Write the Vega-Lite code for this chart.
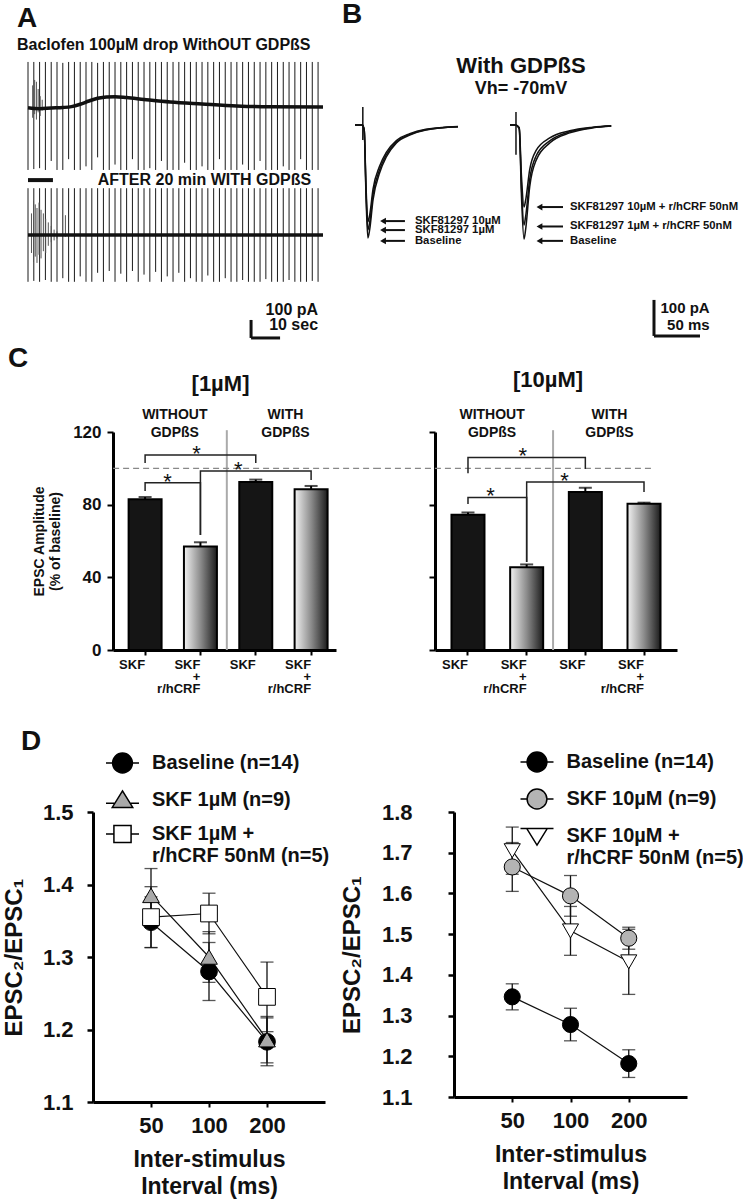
{
"$schema": "https://vega.github.io/schema/vega-lite/v6.json",
"background": "white",
"padding": {"left": 2, "top": 1, "right": 0, "bottom": 2},
"config": {
  "font": "Liberation Sans",
  "view": {"stroke": null},
  "axis": {"labelFont": "Liberation Sans", "titleFont": "Liberation Sans", "labelFontWeight": "bold", "titleFontWeight": "bold", "labelColor": "#111", "titleColor": "#111", "domainColor": "#000", "tickColor": "#000", "grid": false},
  "title": {"font": "Liberation Sans", "fontWeight": "bold", "color": "#111", "subtitleFont": "Liberation Sans", "subtitleFontWeight": "bold", "subtitleColor": "#111"},
  "text": {"font": "Liberation Sans", "fontWeight": "bold", "color": "#111"},
  "legend": {"labelFont": "Liberation Sans"}
},
"datasets": {
  "a1Spikes": [{"t":0,"lo":-350,"hi":250},{"t":2,"lo":-345,"hi":250},{"t":4,"lo":-340,"hi":250},{"t":6,"lo":-350,"hi":250},{"t":8,"lo":-300,"hi":250},{"t":10,"lo":-350,"hi":250},{"t":12,"lo":-350,"hi":245},{"t":14,"lo":-290,"hi":250},{"t":16,"lo":-350,"hi":250},{"t":18,"lo":-350,"hi":250},{"t":20,"lo":-330,"hi":250},{"t":22,"lo":-350,"hi":250},{"t":24,"lo":-280,"hi":245},{"t":26,"lo":-350,"hi":250},{"t":28,"lo":-350,"hi":250},{"t":30,"lo":-320,"hi":250},{"t":32,"lo":-350,"hi":250},{"t":34,"lo":-350,"hi":250},{"t":36,"lo":-290,"hi":250},{"t":38,"lo":-350,"hi":250},{"t":40,"lo":-350,"hi":250},{"t":42,"lo":-340,"hi":250},{"t":44,"lo":-350,"hi":250},{"t":46,"lo":-300,"hi":250},{"t":48,"lo":-350,"hi":250},{"t":50,"lo":-350,"hi":250},{"t":52,"lo":-350,"hi":250},{"t":54,"lo":-310,"hi":250},{"t":56,"lo":-350,"hi":250},{"t":58,"lo":-350,"hi":250},{"t":60,"lo":-330,"hi":250},{"t":62,"lo":-350,"hi":250},{"t":64,"lo":-350,"hi":250},{"t":66,"lo":-290,"hi":250},{"t":68,"lo":-350,"hi":250},{"t":70,"lo":-350,"hi":250},{"t":72,"lo":-350,"hi":250},{"t":74,"lo":-320,"hi":250},{"t":76,"lo":-350,"hi":250},{"t":78,"lo":-350,"hi":250},{"t":80,"lo":-300,"hi":250},{"t":82,"lo":-350,"hi":250},{"t":84,"lo":-350,"hi":250},{"t":86,"lo":-350,"hi":250},{"t":88,"lo":-330,"hi":250},{"t":90,"lo":-350,"hi":250},{"t":92,"lo":-350,"hi":250},{"t":94,"lo":-290,"hi":250},{"t":96,"lo":-350,"hi":250},{"t":98,"lo":-350,"hi":250},{"t":100,"lo":-350,"hi":250}],
  "a1Burst": [{"t":1.6,"lo":-60,"hi":120},{"t":2.3,"lo":-40,"hi":150},{"t":2.9,"lo":-70,"hi":140},{"t":3.5,"lo":-30,"hi":100},{"t":4.2,"lo":-50,"hi":60},{"t":4.9,"lo":-20,"hi":40}],
  "a1Base": [{"t":0,"pA":-5},{"t":4,"pA":-10},{"t":8,"pA":-6},{"t":12,"pA":-3},{"t":15,"pA":2},{"t":18,"pA":15},{"t":21,"pA":33},{"t":24,"pA":48},{"t":27,"pA":56},{"t":30,"pA":57},{"t":34,"pA":52},{"t":40,"pA":42},{"t":49,"pA":28},{"t":60,"pA":17},{"t":72,"pA":6},{"t":83,"pA":1},{"t":101.7,"pA":0}],
  "a2Spikes": [{"t":0,"lo":-260,"hi":260},{"t":2,"lo":-255,"hi":260},{"t":4,"lo":-260,"hi":260},{"t":6,"lo":-250,"hi":260},{"t":8,"lo":-260,"hi":260},{"t":10,"lo":-260,"hi":260},{"t":12,"lo":-240,"hi":260},{"t":14,"lo":-260,"hi":260},{"t":16,"lo":-260,"hi":260},{"t":18,"lo":-230,"hi":260},{"t":20,"lo":-260,"hi":260},{"t":22,"lo":-260,"hi":260},{"t":24,"lo":-210,"hi":260},{"t":26,"lo":-260,"hi":260},{"t":28,"lo":-200,"hi":260},{"t":30,"lo":-260,"hi":260},{"t":32,"lo":-215,"hi":260},{"t":34,"lo":-260,"hi":260},{"t":36,"lo":-200,"hi":260},{"t":38,"lo":-260,"hi":260},{"t":40,"lo":-220,"hi":260},{"t":42,"lo":-260,"hi":260},{"t":44,"lo":-205,"hi":260},{"t":46,"lo":-260,"hi":260},{"t":48,"lo":-230,"hi":260},{"t":50,"lo":-260,"hi":260},{"t":52,"lo":-210,"hi":260},{"t":54,"lo":-260,"hi":260},{"t":56,"lo":-240,"hi":260},{"t":58,"lo":-260,"hi":260},{"t":60,"lo":-260,"hi":260},{"t":62,"lo":-225,"hi":260},{"t":64,"lo":-260,"hi":260},{"t":66,"lo":-260,"hi":260},{"t":68,"lo":-240,"hi":260},{"t":70,"lo":-260,"hi":260},{"t":72,"lo":-260,"hi":260},{"t":74,"lo":-250,"hi":260},{"t":76,"lo":-260,"hi":260},{"t":78,"lo":-260,"hi":260},{"t":80,"lo":-260,"hi":260},{"t":82,"lo":-245,"hi":260},{"t":84,"lo":-260,"hi":260},{"t":86,"lo":-260,"hi":260},{"t":88,"lo":-260,"hi":260},{"t":90,"lo":-250,"hi":260},{"t":92,"lo":-260,"hi":260},{"t":94,"lo":-260,"hi":260},{"t":96,"lo":-260,"hi":260},{"t":98,"lo":-255,"hi":260},{"t":100,"lo":-260,"hi":260}],
  "a2Burst": [{"t":1.2,"lo":-100,"hi":120},{"t":1.9,"lo":-150,"hi":190},{"t":2.5,"lo":-120,"hi":170},{"t":3.1,"lo":-155,"hi":150},{"t":3.8,"lo":-110,"hi":180},{"t":4.5,"lo":-130,"hi":140},{"t":5.3,"lo":-90,"hi":120},{"t":6.1,"lo":-100,"hi":90},{"t":7,"lo":-60,"hi":70},{"t":8,"lo":-40,"hi":50},{"t":9,"lo":-30,"hi":30},{"t":10,"lo":-20,"hi":20},{"t":12.9,"lo":-10,"hi":110}],
  "a2Base": [{"t":0,"pA":0},{"t":101.7,"pA":0}],
  "a2Drug": [{"t":0,"t2":8.6,"pA":305}],
  "a2Scale": [{"t":76.9,"t2":76.9,"pA":-472,"pA2":-572},{"t":76.9,"t2":86.9,"pA":-572,"pA2":-572}],
  "a2Text": [{"t":97.6,"pA":305,"label":"AFTER 20 min WITH GDPßS"},{"t":100,"pA":-417,"label":"100 pA"},{"t":100,"pA":-500,"label":"10 sec"}],
  "b1Traces": [
    {"cond":"Baseline","t":0,"pA":0},{"cond":"Baseline","t":8,"pA":0},{"cond":"Baseline","t":10,"pA":-15},{"cond":"Baseline","t":12,"pA":-200},{"cond":"Baseline","t":14,"pA":-314},{"cond":"Baseline","t":16,"pA":-290},{"cond":"Baseline","t":19.6,"pA":-208},{"cond":"Baseline","t":26.8,"pA":-133},{"cond":"Baseline","t":34,"pA":-89},{"cond":"Baseline","t":45,"pA":-50},{"cond":"Baseline","t":59.5,"pA":-28},{"cond":"Baseline","t":77,"pA":-14},{"cond":"Baseline","t":112,"pA":-5},
    {"cond":"SKF81297 10µM","t":0,"pA":0},{"cond":"SKF81297 10µM","t":8,"pA":0},{"cond":"SKF81297 10µM","t":10,"pA":-13},{"cond":"SKF81297 10µM","t":12,"pA":-171},{"cond":"SKF81297 10µM","t":14,"pA":-269},{"cond":"SKF81297 10µM","t":16,"pA":-249},{"cond":"SKF81297 10µM","t":19.6,"pA":-178},{"cond":"SKF81297 10µM","t":26.8,"pA":-114},{"cond":"SKF81297 10µM","t":34,"pA":-76},{"cond":"SKF81297 10µM","t":45,"pA":-43},{"cond":"SKF81297 10µM","t":59.5,"pA":-24},{"cond":"SKF81297 10µM","t":77,"pA":-12},{"cond":"SKF81297 10µM","t":112,"pA":-4},
    {"cond":"SKF81297 1µM","t":0,"pA":0},{"cond":"SKF81297 1µM","t":8,"pA":0},{"cond":"SKF81297 1µM","t":10,"pA":-14},{"cond":"SKF81297 1µM","t":12,"pA":-186},{"cond":"SKF81297 1µM","t":14,"pA":-292},{"cond":"SKF81297 1µM","t":16,"pA":-270},{"cond":"SKF81297 1µM","t":19.6,"pA":-193},{"cond":"SKF81297 1µM","t":26.8,"pA":-124},{"cond":"SKF81297 1µM","t":34,"pA":-83},{"cond":"SKF81297 1µM","t":45,"pA":-47},{"cond":"SKF81297 1µM","t":59.5,"pA":-26},{"cond":"SKF81297 1µM","t":77,"pA":-13},{"cond":"SKF81297 1µM","t":112,"pA":-5}
  ],
  "b1Art": [{"t":8.5,"lo":-42,"hi":50}],
  "b1Arrows": [{"label":"SKF81297 10µM","pA":-267},{"label":"SKF81297 1µM","pA":-292},{"label":"Baseline","pA":-322}],
  "b2Traces": [
    {"cond":"Baseline","t":0,"pA":0},{"cond":"Baseline","t":6,"pA":0},{"cond":"Baseline","t":10,"pA":-10},{"cond":"Baseline","t":12.5,"pA":-200},{"cond":"Baseline","t":15.2,"pA":-317},{"cond":"Baseline","t":17,"pA":-290},{"cond":"Baseline","t":21.4,"pA":-172},{"cond":"Baseline","t":28.6,"pA":-97},{"cond":"Baseline","t":43.2,"pA":-50},{"cond":"Baseline","t":64.9,"pA":-22},{"cond":"Baseline","t":90.2,"pA":-8},{"cond":"Baseline","t":110,"pA":-3},
    {"cond":"SKF81297 10µM + r/hCRF 50nM","t":0,"pA":0},{"cond":"SKF81297 10µM + r/hCRF 50nM","t":6,"pA":0},{"cond":"SKF81297 10µM + r/hCRF 50nM","t":10,"pA":-7},{"cond":"SKF81297 10µM + r/hCRF 50nM","t":12.5,"pA":-144},{"cond":"SKF81297 10µM + r/hCRF 50nM","t":15.2,"pA":-228},{"cond":"SKF81297 10µM + r/hCRF 50nM","t":17,"pA":-209},{"cond":"SKF81297 10µM + r/hCRF 50nM","t":21.4,"pA":-124},{"cond":"SKF81297 10µM + r/hCRF 50nM","t":28.6,"pA":-70},{"cond":"SKF81297 10µM + r/hCRF 50nM","t":43.2,"pA":-36},{"cond":"SKF81297 10µM + r/hCRF 50nM","t":64.9,"pA":-16},{"cond":"SKF81297 10µM + r/hCRF 50nM","t":90.2,"pA":-6},{"cond":"SKF81297 10µM + r/hCRF 50nM","t":110,"pA":-2},
    {"cond":"SKF81297 1µM + r/hCRF 50nM","t":0,"pA":0},{"cond":"SKF81297 1µM + r/hCRF 50nM","t":6,"pA":0},{"cond":"SKF81297 1µM + r/hCRF 50nM","t":10,"pA":-9},{"cond":"SKF81297 1µM + r/hCRF 50nM","t":12.5,"pA":-175},{"cond":"SKF81297 1µM + r/hCRF 50nM","t":15.2,"pA":-278},{"cond":"SKF81297 1µM + r/hCRF 50nM","t":17,"pA":-254},{"cond":"SKF81297 1µM + r/hCRF 50nM","t":21.4,"pA":-151},{"cond":"SKF81297 1µM + r/hCRF 50nM","t":28.6,"pA":-85},{"cond":"SKF81297 1µM + r/hCRF 50nM","t":43.2,"pA":-44},{"cond":"SKF81297 1µM + r/hCRF 50nM","t":64.9,"pA":-19},{"cond":"SKF81297 1µM + r/hCRF 50nM","t":90.2,"pA":-7},{"cond":"SKF81297 1µM + r/hCRF 50nM","t":110,"pA":-3}
  ],
  "b2Art": [{"t":6.5,"lo":-83,"hi":36}],
  "b2Arrows": [{"label":"SKF81297 10µM + r/hCRF 50nM","pA":-228},{"label":"SKF81297 1µM + r/hCRF 50nM","pA":-282},{"label":"Baseline","pA":-322}],
  "b2Scale": [{"t":156.5,"t2":156.5,"pA":-486,"pA2":-586},{"t":156.5,"t2":206.5,"pA":-586,"pA2":-586}],
  "b2Text": [{"t":217,"pA":-508,"label":"100 pA"},{"t":217,"pA":-556,"label":"50 ms"}],
  "c1Bars": [{"cat":"SKF (w/o GDPßS)","kind":"SKF","v":83,"hi":84.2},{"cat":"SKF + r/hCRF (w/o GDPßS)","kind":"SKF + r/hCRF","v":57,"hi":59.3},{"cat":"SKF (GDPßS)","kind":"SKF","v":92.5,"hi":93.8},{"cat":"SKF + r/hCRF (GDPßS)","kind":"SKF + r/hCRF","v":88.5,"hi":90.3}],
  "c2Bars": [{"cat":"SKF (w/o GDPßS)","kind":"SKF","v":74.5,"hi":75.7},{"cat":"SKF + r/hCRF (w/o GDPßS)","kind":"SKF + r/hCRF","v":45.5,"hi":47.1},{"cat":"SKF (GDPßS)","kind":"SKF","v":87,"hi":89.3},{"cat":"SKF + r/hCRF (GDPßS)","kind":"SKF + r/hCRF","v":80.5,"hi":81.1}],
  "c1Br": [{"id":"a","cat":"SKF (w/o GDPßS)","y":103,"o":1},{"id":"a","cat":"SKF (w/o GDPßS)","y":107.3,"o":2},{"id":"a","cat":"SKF (GDPßS)","y":107.3,"o":3},{"id":"a","cat":"SKF (GDPßS)","y":103,"o":4},{"id":"b","cat":"SKF (w/o GDPßS)","y":87.5,"o":1},{"id":"b","cat":"SKF (w/o GDPßS)","y":92,"o":2},{"id":"b","cat":"SKF + r/hCRF (w/o GDPßS)","y":92,"o":3},{"id":"b","cat":"SKF + r/hCRF (w/o GDPßS)","y":63.3,"o":4},{"id":"c","cat":"SKF + r/hCRF (w/o GDPßS)","y":63.3,"o":1},{"id":"c","cat":"SKF + r/hCRF (w/o GDPßS)","y":98.5,"o":2},{"id":"c","cat":"SKF + r/hCRF (GDPßS)","y":98.5,"o":3},{"id":"c","cat":"SKF + r/hCRF (GDPßS)","y":93.6,"o":4}],
  "c2Br": [{"id":"a","cat":"SKF (w/o GDPßS)","y":97.3,"o":1},{"id":"a","cat":"SKF (w/o GDPßS)","y":106,"o":2},{"id":"a","cat":"SKF (GDPßS)","y":106,"o":3},{"id":"a","cat":"SKF (GDPßS)","y":99.6,"o":4},{"id":"b","cat":"SKF (w/o GDPßS)","y":80.3,"o":1},{"id":"b","cat":"SKF (w/o GDPßS)","y":84,"o":2},{"id":"b","cat":"SKF + r/hCRF (w/o GDPßS)","y":84,"o":3},{"id":"b","cat":"SKF + r/hCRF (w/o GDPßS)","y":48.4,"o":4},{"id":"c","cat":"SKF + r/hCRF (w/o GDPßS)","y":48.4,"o":1},{"id":"c","cat":"SKF + r/hCRF (w/o GDPßS)","y":92.5,"o":2},{"id":"c","cat":"SKF + r/hCRF (GDPßS)","y":92.5,"o":3},{"id":"c","cat":"SKF + r/hCRF (GDPßS)","y":87,"o":4}],
  "c1Stars": [{"pair":"1-3","cat":"SKF + r/hCRF (w/o GDPßS)","y":107.3},{"pair":"1-2","cat":"SKF (w/o GDPßS)","y":92},{"pair":"2-4","cat":"SKF + r/hCRF (w/o GDPßS)","y":98.5}],
  "c2Stars": [{"pair":"1-3","cat":"SKF + r/hCRF (w/o GDPßS)","y":106},{"pair":"1-2","cat":"SKF (w/o GDPßS)","y":84},{"pair":"2-4","cat":"SKF + r/hCRF (w/o GDPßS)","y":92.5}],
  "groups": [{"cat":"SKF (w/o GDPßS)","label":"WITHOUT\nGDPßS"},{"cat":"SKF (GDPßS)","label":"WITH\nGDPßS"}],
  "d1": [
    {"series":"Baseline (n=14)","isi":50,"m":1.348,"e":0.035},{"series":"Baseline (n=14)","isi":100,"m":1.28,"e":0.04},{"series":"Baseline (n=14)","isi":200,"m":1.183,"e":0.033},
    {"series":"SKF 1µM (n=9)","isi":50,"m":1.385,"e":0.037},{"series":"SKF 1µM (n=9)","isi":100,"m":1.3,"e":0.035},{"series":"SKF 1µM (n=9)","isi":200,"m":1.186,"e":0.032},
    {"series":"SKF 1µM + r/hCRF 50nM (n=5)","isi":50,"m":1.355,"e":0.042},{"series":"SKF 1µM + r/hCRF 50nM (n=5)","isi":100,"m":1.36,"e":0.028},{"series":"SKF 1µM + r/hCRF 50nM (n=5)","isi":200,"m":1.245,"e":0.048}
  ],
  "d2": [
    {"series":"Baseline (n=14)","isi":50,"m":1.346,"e":0.032},{"series":"Baseline (n=14)","isi":100,"m":1.278,"e":0.04},{"series":"Baseline (n=14)","isi":200,"m":1.182,"e":0.034},
    {"series":"SKF 10µM (n=9)","isi":50,"m":1.665,"e":0.06},{"series":"SKF 10µM (n=9)","isi":100,"m":1.594,"e":0.05},{"series":"SKF 10µM (n=9)","isi":200,"m":1.49,"e":0.027},
    {"series":"SKF 10µM + r/hCRF 50nM (n=5)","isi":50,"m":1.705,"e":0.058},{"series":"SKF 10µM + r/hCRF 50nM (n=5)","isi":100,"m":1.508,"e":0.06},{"series":"SKF 10µM + r/hCRF 50nM (n=5)","isi":200,"m":1.432,"e":0.08}
  ]
},
"spacing": 0,
"vconcat": [
 {
  "spacing": 0, "bounds": "flush",
  "hconcat": [
   {
    "width": 295, "height": 287,
    "title": {"text": "A", "subtitle": "Baclofen 100µM drop WithOUT GDPßS", "anchor": "start", "frame": "group", "dx": -11, "offset": 5, "fontSize": 28, "subtitleFontSize": 16, "subtitlePadding": 4},
    "resolve": {"scale": {"y": "independent"}},
    "layer": [
     {"layer": [
       {"data": {"name": "a1Spikes"}, "mark": {"type": "rule", "color": "#1a1a1a", "strokeWidth": 1},
        "encoding": {"x": {"field": "t", "type": "quantitative", "scale": {"domain": [0, 101.7], "nice": false, "zero": false}, "axis": null},
                     "y": {"field": "lo", "type": "quantitative", "scale": {"domain": [-1322.4, 272], "nice": false, "zero": false}, "axis": null},
                     "y2": {"field": "hi"}}},
       {"data": {"name": "a1Burst"}, "mark": {"type": "rule", "color": "#555", "strokeWidth": 1},
        "encoding": {"x": {"field": "t", "type": "quantitative", "axis": null}, "y": {"field": "lo", "type": "quantitative", "axis": null}, "y2": {"field": "hi"}}},
       {"data": {"name": "a1Base"}, "mark": {"type": "line", "color": "#111", "strokeWidth": 3.5, "interpolate": "monotone"},
        "encoding": {"x": {"field": "t", "type": "quantitative", "axis": null}, "y": {"field": "pA", "type": "quantitative", "axis": null}}}
     ]},
     {"layer": [
       {"data": {"name": "a2Spikes"}, "mark": {"type": "rule", "color": "#1a1a1a", "strokeWidth": 1},
        "encoding": {"x": {"field": "t", "type": "quantitative", "axis": null},
                     "y": {"field": "lo", "type": "quantitative", "scale": {"domain": [-611.1, 983.3], "nice": false, "zero": false}, "axis": null},
                     "y2": {"field": "hi"}}},
       {"data": {"name": "a2Burst"}, "mark": {"type": "rule", "color": "#555", "strokeWidth": 1},
        "encoding": {"x": {"field": "t", "type": "quantitative", "axis": null}, "y": {"field": "lo", "type": "quantitative", "axis": null}, "y2": {"field": "hi"}}},
       {"data": {"name": "a2Base"}, "mark": {"type": "line", "color": "#111", "strokeWidth": 3.5},
        "encoding": {"x": {"field": "t", "type": "quantitative", "axis": null}, "y": {"field": "pA", "type": "quantitative", "axis": null}}},
       {"data": {"name": "a2Drug"}, "mark": {"type": "rule", "color": "#111", "strokeWidth": 4},
        "encoding": {"x": {"field": "t", "type": "quantitative", "axis": null}, "x2": {"field": "t2"}, "y": {"field": "pA", "type": "quantitative", "axis": null}}},
       {"data": {"name": "a2Scale"}, "mark": {"type": "rule", "color": "#111", "strokeWidth": 3},
        "encoding": {"x": {"field": "t", "type": "quantitative", "axis": null}, "x2": {"field": "t2"}, "y": {"field": "pA", "type": "quantitative", "axis": null}, "y2": {"field": "pA2"}}},
       {"data": {"name": "a2Text"}, "mark": {"type": "text", "align": "right", "baseline": "middle", "fontSize": 16},
        "encoding": {"x": {"field": "t", "type": "quantitative", "axis": null}, "y": {"field": "pA", "type": "quantitative", "axis": null}, "text": {"field": "label"}}}
     ]}
    ]
   },
   {"width": 32, "height": 287, "data": {"values": [{"k": 1}]}, "mark": {"type": "point", "opacity": 0}, "encoding": {}},
   {
    "width": 103, "height": 287,
    "title": {"text": "B", "fontSize": 28, "anchor": "start", "frame": "group", "dx": -13, "offset": 29},
    "layer": [
     {"data": {"name": "b1Traces"}, "mark": {"type": "line", "color": "#111", "strokeWidth": 1.5, "interpolate": "monotone"},
      "encoding": {"x": {"field": "t", "type": "quantitative", "scale": {"domain": [0, 112], "nice": false, "zero": false}, "axis": null},
                   "y": {"field": "pA", "type": "quantitative", "scale": {"domain": [-611.2, 186], "nice": false, "zero": false}, "axis": null},
                   "detail": {"field": "cond", "type": "nominal"}}},
     {"data": {"name": "b1Art"}, "mark": {"type": "rule", "color": "#111", "strokeWidth": 1.5},
      "encoding": {"x": {"field": "t", "type": "quantitative", "axis": null}, "y": {"field": "lo", "type": "quantitative", "axis": null}, "y2": {"field": "hi"}}},
     {"data": {"name": "b1Arrows"}, "mark": {"type": "rule", "color": "#111", "strokeWidth": 2},
      "encoding": {"x": {"datum": 30, "type": "quantitative", "axis": null}, "x2": {"datum": 54.3}, "y": {"field": "pA", "type": "quantitative", "axis": null}}},
     {"data": {"name": "b1Arrows"}, "mark": {"type": "point", "shape": "triangle-left", "filled": true, "color": "#111", "size": 45, "opacity": 1},
      "encoding": {"x": {"datum": 30.5, "type": "quantitative", "axis": null}, "y": {"field": "pA", "type": "quantitative", "axis": null}}},
     {"data": {"name": "b1Arrows"}, "mark": {"type": "text", "align": "left", "baseline": "middle", "fontSize": 11.3},
      "encoding": {"x": {"datum": 65.2, "type": "quantitative", "axis": null}, "y": {"field": "pA", "type": "quantitative", "axis": null}, "text": {"field": "label"}}}
    ]
   },
   {"width": 52, "height": 287, "data": {"values": [{"k": 1}]}, "mark": {"type": "point", "opacity": 0}, "encoding": {}},
   {
    "width": 198, "height": 287,
    "title": {"text": "With GDPßS", "subtitle": "Vh= -70mV", "fontSize": 22, "subtitleFontSize": 18, "subtitlePadding": 2, "anchor": "start", "align": "center", "frame": "group", "dx": 11, "offset": -41},
    "layer": [
     {"data": {"name": "b2Traces"}, "mark": {"type": "line", "color": "#111", "strokeWidth": 1.5, "interpolate": "monotone"},
      "encoding": {"x": {"field": "t", "type": "quantitative", "scale": {"domain": [0, 215.2], "nice": false, "zero": false}, "axis": null},
                   "y": {"field": "pA", "type": "quantitative", "scale": {"domain": [-611.2, 186], "nice": false, "zero": false}, "axis": null},
                   "detail": {"field": "cond", "type": "nominal"}}},
     {"data": {"name": "b2Art"}, "mark": {"type": "rule", "color": "#111", "strokeWidth": 1.5},
      "encoding": {"x": {"field": "t", "type": "quantitative", "axis": null}, "y": {"field": "lo", "type": "quantitative", "axis": null}, "y2": {"field": "hi"}}},
     {"data": {"name": "b2Arrows"}, "mark": {"type": "rule", "color": "#111", "strokeWidth": 2},
      "encoding": {"x": {"datum": 31.5, "type": "quantitative", "axis": null}, "x2": {"datum": 57.6}, "y": {"field": "pA", "type": "quantitative", "axis": null}}},
     {"data": {"name": "b2Arrows"}, "mark": {"type": "point", "shape": "triangle-left", "filled": true, "color": "#111", "size": 45, "opacity": 1},
      "encoding": {"x": {"datum": 32, "type": "quantitative", "axis": null}, "y": {"field": "pA", "type": "quantitative", "axis": null}}},
     {"data": {"name": "b2Arrows"}, "mark": {"type": "text", "align": "left", "baseline": "middle", "fontSize": 11.3},
      "encoding": {"x": {"datum": 65.2, "type": "quantitative", "axis": null}, "y": {"field": "pA", "type": "quantitative", "axis": null}, "text": {"field": "label"}}},
     {"data": {"name": "b2Scale"}, "mark": {"type": "rule", "color": "#111", "strokeWidth": 3},
      "encoding": {"x": {"field": "t", "type": "quantitative", "axis": null}, "x2": {"field": "t2"}, "y": {"field": "pA", "type": "quantitative", "axis": null}, "y2": {"field": "pA2"}}},
     {"data": {"name": "b2Text"}, "mark": {"type": "text", "align": "right", "baseline": "middle", "fontSize": 15},
      "encoding": {"x": {"field": "t", "type": "quantitative", "axis": null}, "y": {"field": "pA", "type": "quantitative", "axis": null}, "text": {"field": "label"}}}
    ]
   }
  ]
 },
 {
  "spacing": 0, "bounds": "flush",
  "hconcat": [
   {"width": 85, "height": 296, "title": {"text": "C", "fontSize": 28, "anchor": "start", "frame": "group", "dx": -20, "offset": 59}, "data": {"values": [{"k": 1}]}, "mark": {"type": "point", "opacity": 0}, "encoding": {}},
   {
    "width": 223, "height": 218,
    "title": {"text": "[1µM]", "fontSize": 22, "frame": "group", "anchor": "middle", "dx": -4, "offset": 12},
    "layer": [
     {"data": {"values": [{"lo": 0, "hi": 121}]}, "mark": {"type": "rule", "color": "#aaa", "strokeWidth": 2},
      "encoding": {"x": {"datum": "SKF + r/hCRF (w/o GDPßS)", "type": "nominal", "bandPosition": 1.3}, "y": {"field": "lo", "type": "quantitative"}, "y2": {"field": "hi"}}},
     {"data": {"values": [{"ref": 100}]}, "mark": {"type": "rule", "color": "#888", "strokeWidth": 1.3, "strokeDash": [6, 4]},
      "encoding": {"x": {"datum": "SKF (w/o GDPßS)", "type": "nominal", "bandPosition": -0.47}, "x2": {"datum": "SKF + r/hCRF (GDPßS)", "bandPosition": 2.44}, "y": {"field": "ref", "type": "quantitative"}}},
     {"data": {"name": "c1Bars"}, "transform": [{"filter": {"field": "kind", "equal": "SKF"}}],
      "mark": {"type": "bar", "fill": "#151515", "stroke": "#000", "strokeWidth": 2},
      "encoding": {
        "x": {"field": "cat", "type": "nominal", "scale": {"domain": ["SKF (w/o GDPßS)", "SKF + r/hCRF (w/o GDPßS)", "SKF (GDPßS)", "SKF + r/hCRF (GDPßS)"], "paddingInner": 0.404, "paddingOuter": 0.217, "align": 0.65},
              "axis": {"title": null, "labelExpr": "indexof(datum.value, 'r/hCRF') >= 0 ? ['SKF', '+', 'r/hCRF'] : 'SKF'", "labelAngle": 0, "labelFontSize": 13, "labelLineHeight": 12, "labelPadding": 3, "labelBaseline": "top", "tickSize": 5, "tickWidth": 2, "domainWidth": 3}},
        "y": {"field": "v", "type": "quantitative", "scale": {"domain": [0, 120], "nice": false},
              "axis": {"title": ["EPSC Amplitude", "(% of baseline)"], "values": [0, 20, 40, 60, 80, 100, 120], "labelFontSize": 17, "titleFontSize": 14, "titleLineHeight": 16, "tickSize": 6, "tickWidth": 2, "domainWidth": 3, "labelPadding": 6, "titlePadding": 10}}}},
     {"data": {"name": "c1Bars"}, "transform": [{"filter": {"field": "kind", "equal": "SKF + r/hCRF"}}],
      "mark": {"type": "bar", "stroke": "#000", "strokeWidth": 2, "fill": {"gradient": "linear", "x1": 0, "x2": 1, "y1": 0, "y2": 0, "stops": [{"offset": 0, "color": "#f2f2f2"}, {"offset": 0.5, "color": "#8c8c8c"}, {"offset": 1, "color": "#1c1c1c"}]}},
      "encoding": {"x": {"field": "cat", "type": "nominal"}, "y": {"field": "v", "type": "quantitative"}}},
     {"data": {"name": "c1Bars"}, "mark": {"type": "rule", "color": "#000", "strokeWidth": 2},
      "encoding": {"x": {"field": "cat", "type": "nominal"}, "y": {"field": "v", "type": "quantitative"}, "y2": {"field": "hi"}}},
     {"data": {"name": "c1Bars"}, "mark": {"type": "tick", "color": "#000", "thickness": 2, "size": 13},
      "encoding": {"x": {"field": "cat", "type": "nominal"}, "y": {"field": "hi", "type": "quantitative"}}},
     {"data": {"name": "c1Br"}, "mark": {"type": "line", "color": "#222", "strokeWidth": 1.5},
      "encoding": {"x": {"field": "cat", "type": "nominal", "bandPosition": 0.5}, "y": {"field": "y", "type": "quantitative"}, "detail": {"field": "id", "type": "nominal"}, "order": {"field": "o", "type": "quantitative"}}},
     {"data": {"name": "c1Stars"}, "transform": [{"filter": {"field": "pair", "equal": "1-3"}}], "mark": {"type": "text", "fontSize": 22, "fontWeight": "normal", "baseline": "alphabetic", "dy": 6},
      "encoding": {"x": {"field": "cat", "type": "nominal", "bandPosition": 0.38}, "y": {"field": "y", "type": "quantitative"}, "text": {"value": "*"}}},
     {"data": {"name": "c1Stars"}, "transform": [{"filter": {"field": "pair", "equal": "2-4"}}], "mark": {"type": "text", "fontSize": 22, "fontWeight": "normal", "baseline": "alphabetic", "dy": 6},
      "encoding": {"x": {"field": "cat", "type": "nominal", "bandPosition": 1.65}, "y": {"field": "y", "type": "quantitative"}, "text": {"value": "*"}}},
     {"data": {"name": "c1Stars"}, "transform": [{"filter": {"field": "pair", "equal": "1-2"}}], "mark": {"type": "text", "fontSize": 22, "fontWeight": "normal", "baseline": "alphabetic", "dy": 6},
      "encoding": {"x": {"field": "cat", "type": "nominal", "bandPosition": 1.18}, "y": {"field": "y", "type": "quantitative"}, "text": {"value": "*"}}},
     {"data": {"name": "groups"}, "mark": {"type": "text", "fontSize": 14, "lineBreak": "\n", "lineHeight": 18, "baseline": "middle", "align": "center"},
      "encoding": {"x": {"field": "cat", "type": "nominal", "bandPosition": 1.4}, "y": {"datum": 129.4, "type": "quantitative"}, "text": {"field": "label"}}}
    ]
   },
   {"width": 99, "height": 218, "data": {"values": [{"k": 1}]}, "mark": {"type": "point", "opacity": 0}, "encoding": {}},
   {
    "width": 242, "height": 218,
    "title": {"text": "[10µM]", "fontSize": 22, "frame": "group", "anchor": "middle", "dx": -8, "offset": 16},
    "layer": [
     {"data": {"values": [{"lo": 0, "hi": 121}]}, "mark": {"type": "rule", "color": "#aaa", "strokeWidth": 2},
      "encoding": {"x": {"datum": "SKF + r/hCRF (w/o GDPßS)", "type": "nominal", "bandPosition": 1.3}, "y": {"field": "lo", "type": "quantitative"}, "y2": {"field": "hi"}}},
     {"data": {"values": [{"ref": 100}]}, "mark": {"type": "rule", "color": "#888", "strokeWidth": 1.3, "strokeDash": [6, 4]},
      "encoding": {"x": {"datum": "SKF (w/o GDPßS)", "type": "nominal", "bandPosition": -2.32}, "x2": {"datum": "SKF + r/hCRF (GDPßS)", "bandPosition": 0.77}, "y": {"field": "ref", "type": "quantitative"}}},
     {"data": {"name": "c2Bars"}, "transform": [{"filter": {"field": "kind", "equal": "SKF"}}],
      "mark": {"type": "bar", "fill": "#151515", "stroke": "#000", "strokeWidth": 2},
      "encoding": {
        "x": {"field": "cat", "type": "nominal", "scale": {"domain": ["SKF (w/o GDPßS)", "SKF + r/hCRF (w/o GDPßS)", "SKF (GDPßS)", "SKF + r/hCRF (GDPßS)"], "paddingInner": 0.4375, "paddingOuter": 0.281, "align": 0.5},
              "axis": {"title": null, "labelExpr": "indexof(datum.value, 'r/hCRF') >= 0 ? ['SKF', '+', 'r/hCRF'] : 'SKF'", "labelAngle": 0, "labelFontSize": 13, "labelLineHeight": 12, "labelPadding": 3, "labelBaseline": "top", "tickSize": 5, "tickWidth": 2, "domainWidth": 3}},
        "y": {"field": "v", "type": "quantitative", "scale": {"domain": [0, 120], "nice": false},
              "axis": {"title": null, "values": [0, 20, 40, 60, 80, 100, 120], "labels": false, "tickSize": 6, "tickWidth": 2, "domainWidth": 3}}}},
     {"data": {"name": "c2Bars"}, "transform": [{"filter": {"field": "kind", "equal": "SKF + r/hCRF"}}],
      "mark": {"type": "bar", "stroke": "#000", "strokeWidth": 2, "fill": {"gradient": "linear", "x1": 0, "x2": 1, "y1": 0, "y2": 0, "stops": [{"offset": 0, "color": "#f2f2f2"}, {"offset": 0.5, "color": "#8c8c8c"}, {"offset": 1, "color": "#1c1c1c"}]}},
      "encoding": {"x": {"field": "cat", "type": "nominal"}, "y": {"field": "v", "type": "quantitative"}}},
     {"data": {"name": "c2Bars"}, "mark": {"type": "rule", "color": "#000", "strokeWidth": 2},
      "encoding": {"x": {"field": "cat", "type": "nominal"}, "y": {"field": "v", "type": "quantitative"}, "y2": {"field": "hi"}}},
     {"data": {"name": "c2Bars"}, "mark": {"type": "tick", "color": "#000", "thickness": 2, "size": 13},
      "encoding": {"x": {"field": "cat", "type": "nominal"}, "y": {"field": "hi", "type": "quantitative"}}},
     {"data": {"name": "c2Br"}, "mark": {"type": "line", "color": "#222", "strokeWidth": 1.5},
      "encoding": {"x": {"field": "cat", "type": "nominal", "bandPosition": 0.5}, "y": {"field": "y", "type": "quantitative"}, "detail": {"field": "id", "type": "nominal"}, "order": {"field": "o", "type": "quantitative"}}},
     {"data": {"name": "c2Stars"}, "transform": [{"filter": {"field": "pair", "equal": "1-3"}}], "mark": {"type": "text", "fontSize": 22, "fontWeight": "normal", "baseline": "alphabetic", "dy": 6},
      "encoding": {"x": {"field": "cat", "type": "nominal", "bandPosition": 0.38}, "y": {"field": "y", "type": "quantitative"}, "text": {"value": "*"}}},
     {"data": {"name": "c2Stars"}, "transform": [{"filter": {"field": "pair", "equal": "2-4"}}], "mark": {"type": "text", "fontSize": 22, "fontWeight": "normal", "baseline": "alphabetic", "dy": 6},
      "encoding": {"x": {"field": "cat", "type": "nominal", "bandPosition": 1.65}, "y": {"field": "y", "type": "quantitative"}, "text": {"value": "*"}}},
     {"data": {"name": "c2Stars"}, "transform": [{"filter": {"field": "pair", "equal": "1-2"}}], "mark": {"type": "text", "fontSize": 22, "fontWeight": "normal", "baseline": "alphabetic", "dy": 6},
      "encoding": {"x": {"field": "cat", "type": "nominal", "bandPosition": 1.18}, "y": {"field": "y", "type": "quantitative"}, "text": {"value": "*"}}},
     {"data": {"name": "groups"}, "mark": {"type": "text", "fontSize": 14, "lineBreak": "\n", "lineHeight": 18, "baseline": "middle", "align": "center"},
      "encoding": {"x": {"field": "cat", "type": "nominal", "bandPosition": 1.23}, "y": {"datum": 129.4, "type": "quantitative"}, "text": {"field": "label"}}}
    ]
   }
  ]
 },
 {
  "spacing": 0, "bounds": "flush",
  "resolve": {"scale": {"fill": "independent", "shape": "independent"}, "legend": {"fill": "independent", "shape": "independent"}},
  "hconcat": [
   {"width": 65, "height": 290, "title": {"text": "D", "fontSize": 28, "anchor": "start", "frame": "group", "dx": -7, "offset": 56}, "data": {"values": [{"k": 1}]}, "mark": {"type": "point", "opacity": 0}, "encoding": {}},
   {
    "width": 232, "height": 290,
    "data": {"name": "d1"},
    "layer": [
     {"mark": {"type": "errorbar", "ticks": {"size": 13, "thickness": 1.3}, "rule": {"strokeWidth": 1.3}, "color": "#111"},
      "encoding": {
        "x": {"field": "isi", "type": "ordinal", "scale": {"type": "point", "domain": [50, 100, 200], "padding": 1},
              "axis": {"title": ["Inter-stimulus", "Interval (ms)"], "labelAngle": 0, "labelFontSize": 22, "titleFontSize": 23, "titleLineHeight": 27, "tickSize": 5, "tickWidth": 2, "domainWidth": 3, "labelPadding": 8, "titlePadding": 12}},
        "y": {"field": "m", "type": "quantitative", "scale": {"domain": [1.1, 1.5], "nice": false, "zero": false},
              "axis": {"title": "EPSC₂/EPSC₁", "values": [1.1, 1.2, 1.3, 1.4, 1.5], "format": ".1f", "labelFontSize": 22, "titleFontSize": 24, "tickSize": 6, "tickWidth": 2.5, "domainWidth": 3, "labelPadding": 14, "titlePadding": 16}},
        "yError": {"field": "e"}}},
     {"mark": {"type": "line", "color": "#111", "strokeWidth": 1.2},
      "encoding": {"x": {"field": "isi", "type": "ordinal"}, "y": {"field": "m", "type": "quantitative"}, "detail": {"field": "series", "type": "nominal"}}},
     {"mark": {"type": "point", "filled": true, "stroke": "#000", "strokeWidth": 1, "opacity": 1, "size": 280},
      "encoding": {
        "x": {"field": "isi", "type": "ordinal"}, "y": {"field": "m", "type": "quantitative"},
        "shape": {"field": "series", "type": "nominal", "scale": {"domain": ["SKF 1µM + r/hCRF 50nM (n=5)", "SKF 1µM (n=9)", "Baseline (n=14)"], "range": ["square", "triangle-up", "circle"]}, "legend": null},
        "fill": {"field": "series", "type": "nominal", "scale": {"domain": ["Baseline (n=14)", "SKF 1µM (n=9)", "SKF 1µM + r/hCRF 50nM (n=5)"], "range": ["#000000", "#a9a9a9", "#ffffff"]},
          "legend": {"orient": "none", "legendX": 12, "legendY": -66.5, "title": null, "symbolSize": 1089, "labelFontSize": 20, "labelFontWeight": "bold", "labelColor": "#111", "labelLimit": 400, "labelOffset": 12, "rowPadding": 6,
            "symbolType": {"expr": "datum.value === 'Baseline (n=14)' ? 'M-1,0L-0.6,0M0.6,0L1,0M-0.6,0A0.6,0.6,0,1,1,0.6,0A0.6,0.6,0,1,1,-0.6,0Z' : datum.value === 'SKF 1µM (n=9)' ? 'M-1,0.2L-0.5,0.2M0.5,0.2L1,0.2M0,-0.55L0.62,0.45L-0.62,0.45Z' : 'M-1,0L-0.52,0M0.52,0L1,0M-0.52,-0.52L0.52,-0.52L0.52,0.52L-0.52,0.52Z'"},
            "labelExpr": "indexof(datum.label, ' + ') > 0 ? [slice(datum.label, 0, indexof(datum.label, ' + ') + 2), slice(datum.label, indexof(datum.label, ' + ') + 3)] : datum.label",
            "encode": {"symbols": {"stroke": {"value": "#000"}, "strokeWidth": {"value": 1.4}},
                       "labels": {"dy": {"value": {"expr": "indexof(datum.label, ' + ') > 0 ? 11 : 0"}}, "lineHeight": {"value": 22}}}}}
      }}
    ]
   },
   {"width": 129, "height": 290, "data": {"values": [{"k": 1}]}, "mark": {"type": "point", "opacity": 0}, "encoding": {}},
   {
    "width": 233, "height": 285,
    "data": {"name": "d2"},
    "layer": [
     {"mark": {"type": "errorbar", "ticks": {"size": 13, "thickness": 1.3}, "rule": {"strokeWidth": 1.3}, "color": "#111"},
      "encoding": {
        "x": {"field": "isi", "type": "ordinal", "scale": {"type": "point", "domain": [50, 100, 200], "padding": 1},
              "axis": {"title": ["Inter-stimulus", "Interval (ms)"], "labelAngle": 0, "labelFontSize": 22, "titleFontSize": 23, "titleLineHeight": 27, "tickSize": 5, "tickWidth": 2, "domainWidth": 3, "labelPadding": 8, "titlePadding": 12}},
        "y": {"field": "m", "type": "quantitative", "scale": {"domain": [1.1, 1.8], "nice": false, "zero": false},
              "axis": {"title": "EPSC₂/EPSC₁", "values": [1.1, 1.2, 1.3, 1.4, 1.5, 1.6, 1.7, 1.8], "format": ".1f", "labelFontSize": 22, "titleFontSize": 24, "tickSize": 6, "tickWidth": 2.5, "domainWidth": 3, "labelPadding": 36, "titlePadding": 17}},
        "yError": {"field": "e"}}},
     {"mark": {"type": "line", "color": "#111", "strokeWidth": 1.2},
      "encoding": {"x": {"field": "isi", "type": "ordinal"}, "y": {"field": "m", "type": "quantitative"}, "detail": {"field": "series", "type": "nominal"}}},
     {"mark": {"type": "point", "filled": true, "stroke": "#000", "strokeWidth": 1, "opacity": 1, "size": 260},
      "encoding": {
        "x": {"field": "isi", "type": "ordinal"}, "y": {"field": "m", "type": "quantitative"},
        "shape": {"field": "series", "type": "nominal", "scale": {"domain": ["SKF 10µM + r/hCRF 50nM (n=5)", "SKF 10µM (n=9)", "Baseline (n=14)"], "range": ["triangle-down", "circle", "circle"]}, "legend": null},
        "fill": {"field": "series", "type": "nominal", "scale": {"domain": ["Baseline (n=14)", "SKF 10µM (n=9)", "SKF 10µM + r/hCRF 50nM (n=5)"], "range": ["#000000", "#b4b4b4", "#ffffff"]},
          "legend": {"orient": "none", "legendX": 65.5, "legendY": -67.5, "title": null, "symbolSize": 1089, "labelFontSize": 20, "labelFontWeight": "bold", "labelColor": "#111", "labelLimit": 400, "labelOffset": 12, "rowPadding": 6,
            "symbolType": {"expr": "datum.value === 'SKF 10µM + r/hCRF 50nM (n=5)' ? 'M-1,-0.45L-0.62,-0.45M0.62,-0.45L1,-0.45M-0.62,-0.45L0.62,-0.45L0,0.55Z' : 'M-1,0L-0.6,0M0.6,0L1,0M-0.6,0A0.6,0.6,0,1,1,0.6,0A0.6,0.6,0,1,1,-0.6,0Z'"},
            "labelExpr": "indexof(datum.label, ' + ') > 0 ? [slice(datum.label, 0, indexof(datum.label, ' + ') + 2), slice(datum.label, indexof(datum.label, ' + ') + 3)] : datum.label",
            "encode": {"symbols": {"stroke": {"value": "#000"}, "strokeWidth": {"value": 1.4}},
                       "labels": {"dy": {"value": {"expr": "indexof(datum.label, ' + ') > 0 ? 11 : 0"}}, "lineHeight": {"value": 22}}}}}
      }}
    ]
   }
  ]
 }
]
}
